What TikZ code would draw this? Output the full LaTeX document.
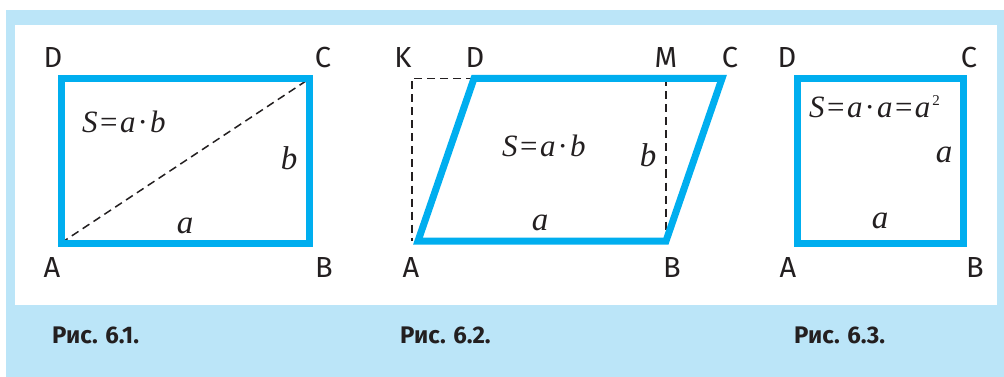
\documentclass[tikz,border=0pt]{standalone}
\usepackage{fontspec}
\setmainfont{Fira Sans}
\newfontfamily\serifit{Liberation Serif}
\usepackage{tikz}
\usetikzlibrary{positioning, calc}
\definecolor{figblue}{RGB}{0,174,239}
\definecolor{bandblue}{RGB}{187,229,248}
\definecolor{ink}{RGB}{35,31,32}
\newcommand{\iv}[1]{{\itshape #1}}
\newcommand{\eqs}{\hspace{2.5pt}=\hspace{2.5pt}}
\newcommand{\dotop}{\hspace{2pt}·\hspace{2pt}}
\tikzstyle{outline} = [line width=7pt, draw=figblue]
\tikzstyle{helper} = [line width=1.5pt, dash pattern=on 8pt off 5pt, draw=ink]
\tikzstyle{vertex} = [inner sep=0pt, anchor=base, text=ink, font=\fontsize{29}{29}\selectfont]
\tikzstyle{formula} = [inner sep=0pt, anchor=base west, text=ink, font=\fontsize{31}{31}\selectfont\serifit]
\tikzstyle{side} = [inner sep=0pt, anchor=base, text=ink, font=\fontsize{33}{33}\selectfont\serifit\itshape]
\tikzstyle{caption} = [inner sep=0pt, anchor=base west, text=ink, font=\fontsize{24}{24}\selectfont\bfseries]

\begin{document}
\begin{tikzpicture}[x=1pt, y=-1pt]
        \useasboundingbox (0,0) rectangle (1004,377);
        % frame
        \fill[white] (0,0) rectangle (1004,377);
        \fill[bandblue] (6,10) rectangle (1004,377);
        \fill[white] (15,25) rectangle (997,305);

        % Fig. 6.1
        \coordinate (A1) at (61,243);
        \coordinate (B1) at (309,243);
        \coordinate (C1) at (309,79);
        \coordinate (D1) at (61,79);
        \draw [helper] (A1) -- (C1);
        \draw [outline] (A1) -- (B1) -- (C1) -- (D1) -- cycle;
        \node (labelA1) [vertex] at (52,277) {A};
        \node (labelB1) [vertex] at (324,277) {B};
        \node (labelC1) [vertex] at (323,68) {C};
        \node (labelD1) [vertex] at (53,68) {D};
        \node (area1) [formula] at (82,133) {\iv{S}\eqs\iv{a}\dotop\iv{b}};
        \node (sideb1) [side] at (289,170) {b};
        \node (sidea1) [side] at (185,233) {a};
        \node (cap1) [caption] at (52,343) {Рис. 6.1.};

        % Fig. 6.2
        \coordinate (A2) at (418,241);
        \coordinate (B2) at (666,241);
        \coordinate (C2) at (722,78.5);
        \coordinate (D2) at (474,78.5);
        \coordinate (K2) at (412,78.5);
        \coordinate (Kfoot) at (412,241);
        \coordinate (M2) at (666,78.5);
        \draw [helper] (D2) -- (K2) -- (Kfoot);
        \draw [helper] (M2) -- (B2);
        \draw [outline] (A2) -- (B2) -- (C2) -- (D2) -- cycle;
        \node (labelK2) [vertex] at (403,68) {K};
        \node (labelD2) [vertex] at (475,68) {D};
        \node (labelM2) [vertex] at (666,68) {M};
        \node (labelC2) [vertex] at (730,68) {C};
        \node (labelA2) [vertex] at (411,277) {A};
        \node (labelB2) [vertex] at (672,277) {B};
        \node (area2) [formula] at (502,157) {\iv{S}\eqs\iv{a}\dotop\iv{b}};
        \node (sideb2) [side] at (648,167) {b};
        \node (sidea2) [side] at (540,230) {a};
        \node (cap2) [caption] at (400,343) {Рис. 6.2.};

        % Fig. 6.3
        \coordinate (A3) at (797,243);
        \coordinate (B3) at (963,243);
        \coordinate (C3) at (963,79);
        \coordinate (D3) at (797,79);
        \draw [outline] (A3) -- (B3) -- (C3) -- (D3) -- cycle;
        \node (labelA3) [vertex] at (788,277) {A};
        \node (labelB3) [vertex] at (975,277) {B};
        \node (labelC3) [vertex] at (969,68) {C};
        \node (labelD3) [vertex] at (787,68) {D};
        \node (area3) [formula] at (809,118) {\iv{S}\eqs\iv{a}\dotop\iv{a}\eqs\iv{a}\hspace{2pt}\raisebox{12pt}{\fontsize{15}{15}\selectfont 2}};
        \node (sidea3r) [side] at (944,162) {a};
        \node (sidea3b) [side] at (880,228) {a};
        \node (cap3) [caption] at (794,343) {Рис. 6.3.};
\end{tikzpicture}
\end{document}
